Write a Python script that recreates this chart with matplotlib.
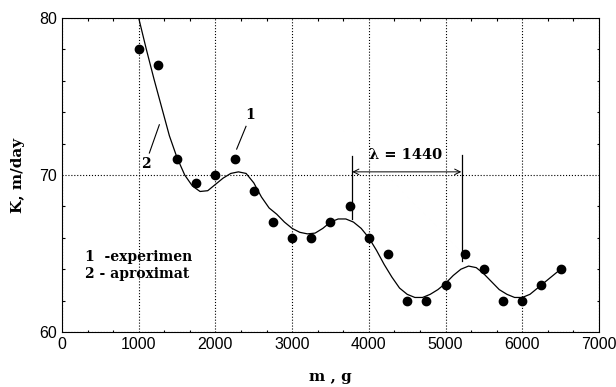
import matplotlib
matplotlib.use("Agg")
import matplotlib.pyplot as plt
from matplotlib.ticker import MultipleLocator
import numpy as np

# experimental points
mass = [1000, 1250, 1500, 1750, 2000, 2250, 2500, 2750, 3000, 3250, 3500, 3750,
        4000, 4250, 4500, 4750, 5000, 5250, 5500, 5750, 6000, 6250, 6500]
k_exp = [78, 77, 71, 69.5, 70, 71, 69, 67, 66, 66, 67, 68,
         66, 65, 62, 62, 63, 65, 64, 62, 62, 63, 64]

# approximation curve, read off every 100 g
curve_m = list(range(1000, 6501, 100))
curve_k = [80.0, 78.0, 76.1, 74.3, 72.5, 71.1, 70.0, 69.3, 68.95, 69.0,
           69.4, 69.8, 70.1, 70.2, 70.1, 69.5, 68.6, 67.9, 67.5, 67.0,
           66.6, 66.35, 66.25, 66.3, 66.6, 67.0, 67.2, 67.2, 67.0, 66.6,
           66.0, 65.2, 64.3, 63.5, 62.8, 62.4, 62.2, 62.2, 62.4, 62.7,
           63.1, 63.6, 64.0, 64.2, 64.1, 63.7, 63.2, 62.7, 62.4, 62.2,
           62.2, 62.4, 62.8, 63.2, 63.6, 64.0]

serif = {'family': 'DejaVu Serif', 'weight': 'bold'}

fig = plt.figure(figsize=(6.16, 3.87), dpi=100)
ax = fig.add_axes([0.1006, 0.1421, 0.8718, 0.8114])

# curve and points
ax.plot(curve_m, curve_k, color='black', linewidth=0.9)
ax.plot(mass, k_exp, 'o', color='black', markersize=6)

# axis setup
ax.set_xlim(0, 7000)
ax.set_ylim(60, 80)
ax.xaxis.set_major_locator(MultipleLocator(1000))
ax.xaxis.set_minor_locator(MultipleLocator(1000 / 3))
ax.yaxis.set_major_locator(MultipleLocator(10))
ax.yaxis.set_minor_locator(MultipleLocator(2))
ax.tick_params(which='both', direction='in', top=True, right=True,
               labelsize=11.5, width=0.8)
ax.tick_params(which='major', length=0)
ax.tick_params(which='minor', length=1.8)
for lab in ax.get_xticklabels() + ax.get_yticklabels():
    lab.set_family('Liberation Sans')
ax.grid(True, which='major', linestyle=':', color='black', linewidth=0.8)

ax.set_xlabel('m , g', fontdict=serif, fontsize=11, labelpad=13)
ax.set_ylabel('K, m/day', fontdict=serif, fontsize=11, labelpad=10)

# wavelength marker
ax.plot([3784, 3784], [71.2, 67.2], color='black', linewidth=0.9)
ax.plot([5219, 5219], [71.3, 64.5], color='black', linewidth=0.9)
ax.annotate('', xy=(3784, 70.2), xytext=(5205, 70.2),
            arrowprops=dict(arrowstyle='<->', color='black', lw=0.7,
                            shrinkA=0, shrinkB=0))
ax.text(4480, 71.3, '\u03bb = 1440', fontdict=serif, fontsize=10.5,
        ha='center', va='center')

# curve labels
ax.plot([2399, 2277], [73.1, 71.65], color='black', linewidth=0.8)
ax.text(2451, 73.8, '1', fontdict=serif, fontsize=10, ha='center', va='center')
ax.plot([1269, 1139], [73.2, 71.4], color='black', linewidth=0.8)
ax.text(1091, 70.7, '2', fontdict=serif, fontsize=10, ha='center', va='center')

# legend text
ax.text(300, 64.8, '1  -experimen', fontdict=serif, fontsize=10, va='center')
ax.text(300, 63.7, '2 - aproximat', fontdict=serif, fontsize=10, va='center')

fig.savefig('out.png', dpi=100)
